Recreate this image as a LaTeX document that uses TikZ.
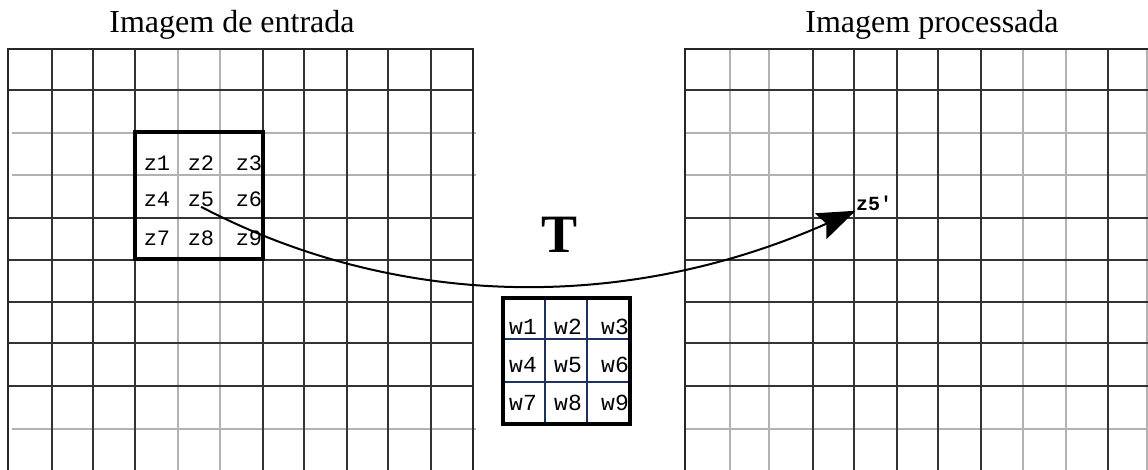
\documentclass[tikz,border=0pt]{standalone}
\usepackage{fontspec}
\setmainfont{Liberation Serif}
\setmonofont{Liberation Mono}
\usepackage{tikz}
\usetikzlibrary{
    arrows.meta % For the filled arrow tip (Stealth)
}
\definecolor{weight_blue}{RGB}{30,50,95}
\tikzset{
    % Thin dark lines of the pixel grids
    grid_dark/.style={draw=black!80, line width=0.7pt},
    % Faded (lighter, wider) lines of the pixel grids
    grid_light/.style={draw=black!30, line width=1.3pt},
    % Outer frame of a grid
    grid_border/.style={draw=black!85, line width=1.4pt},
    % The 3x3 neighbourhood window
    window_box/.style={draw=black, line width=1.6pt},
    % Labels of the neighbourhood pixels
    pixel_label/.style={inner sep=0pt, font=\fontsize{11}{11}\selectfont\ttfamily},
    % Labels of the mask weights
    weight_label/.style={inner sep=0pt, font=\fontsize{11.5}{11.5}\selectfont\ttfamily},
    % Captions above the two images
    title_label/.style={inner sep=0pt, font=\fontsize{16}{16}\selectfont},
    % The mapping arrow
    map_arrow/.style={draw=black, line width=1pt, -{Stealth[length=19pt, width=14pt, inset=3pt]}}
}

\begin{document}
\begin{tikzpicture}[x=0.5pt, y=-0.5pt]
\useasboundingbox (0,0) rectangle (1148,470);

% --- INPUT IMAGE GRID ---
\foreach \gx in {178,220} \draw[grid_light] (\gx,49) -- (\gx,470);
\foreach \gy in {133,175,429} \draw[grid_light] (12,\gy) -- (476,\gy);
\foreach \gx in {52,93,135,263,304,347,388,431} \draw[grid_dark] (\gx,49) -- (\gx,470);
\foreach \gy in {90,218,260,302,343,386} \draw[grid_dark] (8,\gy) -- (473,\gy);
\draw[grid_border] (8,470) -- (8,49) -- (473,49) -- (473,470);

% --- PROCESSED IMAGE GRID ---
\foreach \gx in {730,769,1023,1066,1147} \draw[grid_light] (\gx,49) -- (\gx,470);
\foreach \gy in {133,175,429} \draw[grid_light] (685,\gy) -- (1148,\gy);
\foreach \gx in {813,854,897,938,981,1108} \draw[grid_dark] (\gx,49) -- (\gx,470);
\foreach \gy in {90,218,260,302,343,386} \draw[grid_dark] (685,\gy) -- (1148,\gy);
\draw[grid_border] (685,470) -- (685,49) -- (1148,49);

% --- TITLES ---
\node[title_label, anchor=base] (title_in) at (232,33) {Imagem de entrada};
\node[title_label, anchor=base] (title_out) at (932,33) {Imagem processada};

% --- NEIGHBOURHOOD WINDOW ---
\draw[window_box] (135,132) rectangle (263,259);
\foreach \zl/\zx/\zy in {1/157/163, 2/201/163, 3/249/163,
                         4/157/199, 5/201/199, 6/249/199,
                         7/157/238, 8/201/238, 9/249/238}
    \node[pixel_label] (z\zl) at (\zx,\zy) {z\zl};

% --- MASK ---
\node[inner sep=0pt, font=\fontsize{27}{27}\selectfont\bfseries] (T_label) at (560,235) {T};
\foreach \wx in {545,587} \draw[weight_blue, line width=0.6pt] (\wx,298) -- (\wx,424);
\foreach \wy in {339,382} \draw[weight_blue, line width=0.6pt] (503,\wy) -- (630,\wy);
\draw[line width=2pt] (503,298) rectangle (630,424);
\foreach \wl/\wx/\wy in {1/523/327, 2/568/327, 3/615/327,
                         4/523/365, 5/568/365, 6/615/365,
                         7/523/403, 8/568/403, 9/615/403}
    \node[weight_label] (w\wl) at (\wx,\wy) {w\wl};

% --- OUTPUT PIXEL AND MAPPING ---
\node[inner sep=0pt, font=\fontsize{10}{10}\selectfont\ttfamily\bfseries] (z5p) at (874,203) {z5'};
\draw[map_arrow] (z5.south) .. controls (400,311) and (630,311) .. (z5p.south west);

\end{tikzpicture}
\end{document}
